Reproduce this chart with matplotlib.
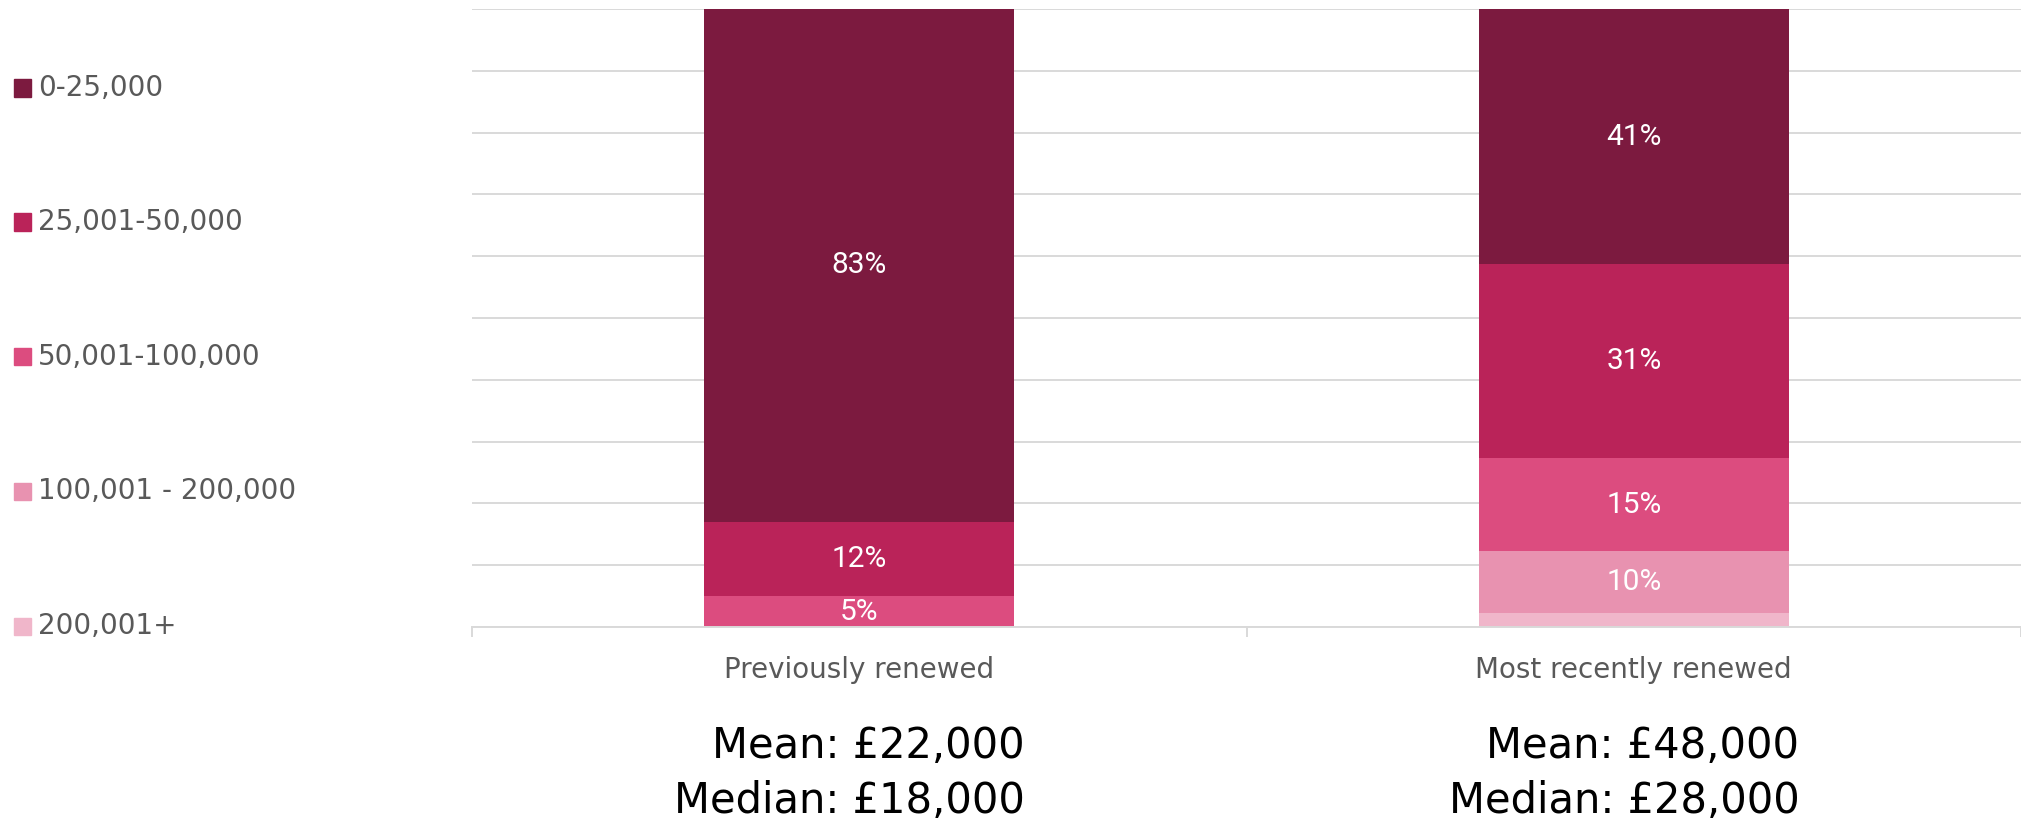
import matplotlib
matplotlib.use("Agg")
import matplotlib.pyplot as plt
from matplotlib import font_manager
from matplotlib.patches import Rectangle
import matplotlib.transforms as mtransforms

# ---- data ----
categories = ["Previously renewed", "Most recently renewed"]
bands = ["0-25,000", "25,001-50,000", "50,001-100,000", "100,001 - 200,000", "200,001+"]
band_colors = ["#7C1A3F", "#BA2359", "#DC4C7F", "#E892B0", "#F0B6CA"]
# percentages per band (same order as bands), per category
v_0_25k = [83.0, 41.3]
v_25_50k = [12.0, 31.4]
v_50_100k = [5.0, 15.0]
v_100_200k = [0.0, 10.0]
v_200k_plus = [0.0, 2.3]
mean_text = ["Mean: £22,000", "Mean: £48,000"]
median_text = ["Median: £18,000", "Median: £28,000"]

series = [v_0_25k, v_25_50k, v_50_100k, v_100_200k, v_200k_plus]

names = {f.name for f in font_manager.fontManager.ttflist}
if "Liberation Sans Narrow" in names:
    narrow, lab_size = "Liberation Sans Narrow", 22
elif "Roboto" in names:
    narrow, lab_size = "Roboto", 21.5
else:
    narrow, lab_size = "DejaVu Sans", 17

plt.rcParams["font.family"] = ["DejaVu Sans"]

W, H = 2021, 824
fig = plt.figure(figsize=(W / 100, H / 100), dpi=100)
ax = fig.add_axes([472 / W, 1 - 627 / H, 1 - 472 / W, (627 - 9) / H])

x = list(range(len(categories)))
width = 0.4
# stack from bottom: lightest band first
bottom = [0.0] * len(categories)
for vals, col in zip(series[::-1], band_colors[::-1]):
    ax.bar(x, vals, width=width, bottom=bottom, color=col, edgecolor="none", zorder=2)
    for xi, v, b in zip(x, vals, bottom):
        if v >= 4:
            ax.text(xi, b + v / 2, f"{v:.0f}%", ha="center", va="center",
                    color="white", fontsize=lab_size, family=[narrow, "DejaVu Sans"], zorder=3)
    bottom = [b + v for b, v in zip(bottom, vals)]

ax.set_xlim(-0.5, 1.5)
ax.set_ylim(0, 100)
ax.set_yticks(range(0, 101, 10))
ax.yaxis.grid(True, color="#d9d9d9", linewidth=1.4, zorder=0)
ax.tick_params(axis="y", length=0, labelleft=False)
for s in ["left", "right", "top"]:
    ax.spines[s].set_visible(False)
ax.spines["bottom"].set_color("#d9d9d9")
ax.spines["bottom"].set_linewidth(1.4)
ax.set_axisbelow(True)

ax.set_xticks(x)
ax.set_xticklabels(categories, fontsize=20, color="#595959")
ax.tick_params(axis="x", which="major", length=0, pad=21)
ax.set_xticks([-0.5, 0.5, 1.5], minor=True)
ax.tick_params(axis="x", which="minor", length=7, width=1.4, color="#d9d9d9", direction="out")

trans = mtransforms.blended_transform_factory(ax.transData, fig.transFigure)
for xi, mt, md in zip(x, mean_text, median_text):
    ax.text(xi + width / 2 + 0.014, 1 - 746 / H, mt, transform=trans, ha="right", va="center",
            fontsize=30, color="black")
    ax.text(xi + width / 2 + 0.014, 1 - 801 / H, md, transform=trans, ha="right", va="center",
            fontsize=30, color="black")

# legend (manual, left column)
ys = [88, 222, 357, 491, 626]
for lab, col, yc in zip(bands, band_colors, ys):
    fig.patches.append(Rectangle((14 / W, 1 - (yc + 8.5) / H), 17 / W, 17 / H,
                                 transform=fig.transFigure, color=col))
    fig.text(38 / W, 1 - yc / H, lab, ha="left", va="center", fontsize=20, color="#595959")

fig.savefig("out.png", dpi=100)
